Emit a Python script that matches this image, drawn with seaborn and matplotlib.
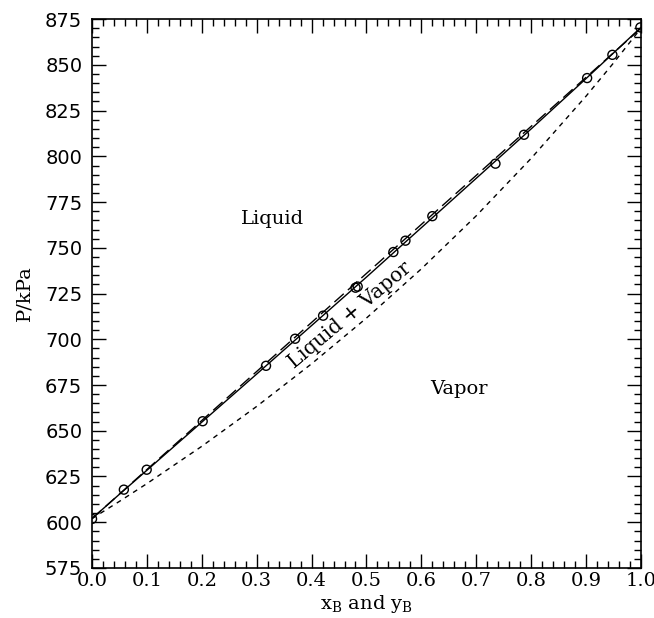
import matplotlib
matplotlib.use("Agg")
import matplotlib.pyplot as plt
import seaborn as sns
import pandas as pd
from matplotlib.ticker import MultipleLocator

# Experimental bubble-point data (circles)
x_exp = [0.0, 0.058, 0.0996, 0.2016, 0.317, 0.370, 0.421, 0.480, 0.484, 0.549, 0.571, 0.620,
         0.735, 0.787, 0.902, 0.948, 0.999]
p_exp = [601.8, 617.8, 628.7, 655.2, 685.5, 700.3, 712.9, 728.2, 728.8, 747.7, 753.9, 767.3,
         796.0, 811.8, 842.8, 855.5, 870.5]

# Curves
x_curve = [0.0, 0.05, 0.1, 0.2, 0.3, 0.4, 0.5, 0.6, 0.7, 0.8, 0.9, 0.95, 1.0]
p_bubble_fit = [602.0, 615.3, 628.4, 654.7, 681.0, 707.5, 734.0, 761.0, 788.0, 815.0, 842.5, 856.5, 870.5]
p_bubble_ideal = [602.0, 615.4, 628.8, 655.6, 682.4, 709.2, 736.0, 762.8, 789.6, 816.4, 843.2, 856.6, 870.0]
p_dew = [602.0, 611.4, 621.1, 641.5, 663.3, 686.6, 711.6, 738.5, 767.5, 798.9, 832.9, 851.0, 870.0]

x_ticks = [0.0, 0.1, 0.2, 0.3, 0.4, 0.5, 0.6, 0.7, 0.8, 0.9, 1.0]
y_ticks = [575, 600, 625, 650, 675, 700, 725, 750, 775, 800, 825, 850, 875]

sns.set_theme(style="ticks")
plt.rcParams['font.family'] = ['DejaVu Serif']
plt.rcParams['mathtext.fontset'] = 'dejavuserif'
plt.rcParams['text.color'] = 'black'
plt.rcParams['axes.labelcolor'] = 'black'

fig = plt.figure(figsize=(6.54, 6.18), dpi=100)
ax = fig.add_axes([0.1407, 0.081, 0.8393, 0.888])

df_exp = pd.DataFrame({"x": x_exp, "P": p_exp})
df_curve = pd.DataFrame({"x": x_curve, "fit": p_bubble_fit, "ideal": p_bubble_ideal, "dew": p_dew})

sns.lineplot(data=df_curve, x="x", y="ideal", ax=ax, color="black", lw=1.0,
             linestyle=(0, (9, 4)))
sns.lineplot(data=df_curve, x="x", y="fit", ax=ax, color="black", lw=1.0)
sns.lineplot(data=df_curve, x="x", y="dew", ax=ax, color="black", lw=1.0,
             linestyle=(0, (3.5, 3.5)))
sns.scatterplot(data=df_exp, x="x", y="P", ax=ax, marker="o", s=42,
                facecolor="none", edgecolor="black", linewidth=1.0, zorder=5)

ax.set_xlim(0, 1.0)
ax.set_ylim(575, 875)
ax.set_xticks(x_ticks)
ax.set_xticklabels([f"{v:.1f}" for v in x_ticks])
ax.set_yticks(y_ticks)
ax.set_yticklabels([str(v) for v in y_ticks], family="DejaVu Sans")
ax.xaxis.set_minor_locator(MultipleLocator(0.02))
ax.yaxis.set_minor_locator(MultipleLocator(5))
ax.tick_params(which="major", direction="in", length=10, width=1, top=True, right=True,
               labelsize=14, colors="black")
ax.tick_params(axis="x", which="major", pad=3)
ax.tick_params(axis="y", which="major", pad=7)
ax.tick_params(which="minor", direction="in", length=5, width=1, top=True, right=True,
               colors="black")
for s in ax.spines.values():
    s.set_linewidth(1.2)
    s.set_color("black")

ax.set_xlabel(r"$\mathregular{x_B}$ and $\mathregular{y_B}$", fontsize=14, labelpad=2)
ax.set_ylabel("P/kPa", fontsize=14, labelpad=8)

ax.text(0.328, 765.7, "Liquid", fontsize=14, ha="center", va="center")
ax.text(0.669, 672.8, "Vapor", fontsize=14, ha="center", va="center")
ax.text(0.470, 713.0, "Liquid + Vapor", fontsize=14.5, ha="center", va="center",
        rotation=40, rotation_mode="anchor")

fig.savefig("out.png", dpi=100)
